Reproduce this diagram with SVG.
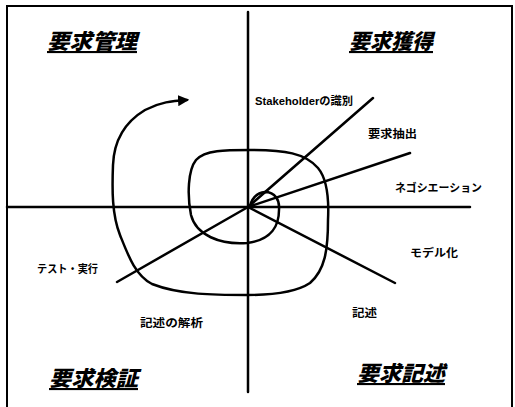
<svg xmlns="http://www.w3.org/2000/svg" width="515" height="407" viewBox="0 0 515 407">
<style>
.ln{fill:none;stroke:#000;stroke-width:2.5;stroke-linecap:round;stroke-linejoin:round}
.fr{fill:none;stroke:#000;stroke-width:2}
.ttl{font-family:"Noto Sans CJK JP","Noto Sans CJK SC",sans-serif;font-weight:900;font-style:italic;font-size:21px;text-decoration:underline;fill:#000}
.lbl{font-family:"Liberation Sans","Noto Sans CJK JP",sans-serif;font-weight:bold;font-size:11px;fill:#000}
</style>
<defs>
<marker id="ah" viewBox="0 0 10 10" refX="8" refY="5" markerWidth="4.5" markerHeight="4.5" orient="auto">
<path d="M0,0 L10,5 L0,10 z" fill="#000"/>
</marker>
</defs>
<rect width="515" height="407" fill="#fff"/>
<g id="frame">
<path class="fr" d="M7,407 V6 H512 V407"/>
</g>
<g id="connectors">
<path class="ln" d="M248,12 V392"/>
<path class="ln" d="M7,207 H470"/>
<path class="ln" d="M248,207 L373,98"/>
<path class="ln" d="M248,207 L410,153"/>
<path class="ln" d="M248,207 L395,283"/>
<path class="ln" d="M248,207 L117,282"/>
<path class="ln" marker-end="url(#ah)" d="M250,206 C252,198 256,193 265,192 C275,192 280,200 279,210 C279,225 272,240 247,243 C220,245 196,235 191,215 C187,195 188,170 196,160 C205,150 225,150 250,150 C285,150 305,153 318,168 C328,180 329,200 328,220 C328,250 325,270 310,283 C295,293 270,295 247,295 C215,295 180,295 152,284 C135,275 128,255 120,235 C112,215 112,190 113,165 C114,140 125,122 145,110 C160,102 172,101 187,100"/>
</g>
<g id="title-kanri"><text class="ttl" x="47" y="49" textLength="90" lengthAdjust="spacingAndGlyphs">要求管理</text></g>
<g id="title-kakutoku"><text class="ttl" x="349" y="49" textLength="84" lengthAdjust="spacingAndGlyphs">要求獲得</text></g>
<g id="title-kensho"><text class="ttl" x="49" y="386" textLength="89" lengthAdjust="spacingAndGlyphs">要求検証</text></g>
<g id="title-kijutsu"><text class="ttl" x="357" y="381" textLength="88" lengthAdjust="spacingAndGlyphs">要求記述</text></g>
<g id="lbl-stakeholder"><text class="lbl" x="255" y="105" textLength="98" lengthAdjust="spacingAndGlyphs">Stakeholderの識別</text></g>
<g id="lbl-chushutsu"><text class="lbl" x="368" y="138" textLength="49" lengthAdjust="spacingAndGlyphs">要求抽出</text></g>
<g id="lbl-nego"><text class="lbl" x="395" y="192" textLength="87" lengthAdjust="spacingAndGlyphs">ネゴシエーション</text></g>
<g id="lbl-model"><text class="lbl" x="410" y="257" textLength="48" lengthAdjust="spacingAndGlyphs">モデル化</text></g>
<g id="lbl-kijutsu"><text class="lbl" x="352" y="317" textLength="25" lengthAdjust="spacingAndGlyphs">記述</text></g>
<g id="lbl-test"><text class="lbl" x="37" y="273" textLength="61" lengthAdjust="spacingAndGlyphs">テスト・実行</text></g>
<g id="lbl-kaiseki"><text class="lbl" x="140" y="327" textLength="63" lengthAdjust="spacingAndGlyphs">記述の解析</text></g>
</svg>
